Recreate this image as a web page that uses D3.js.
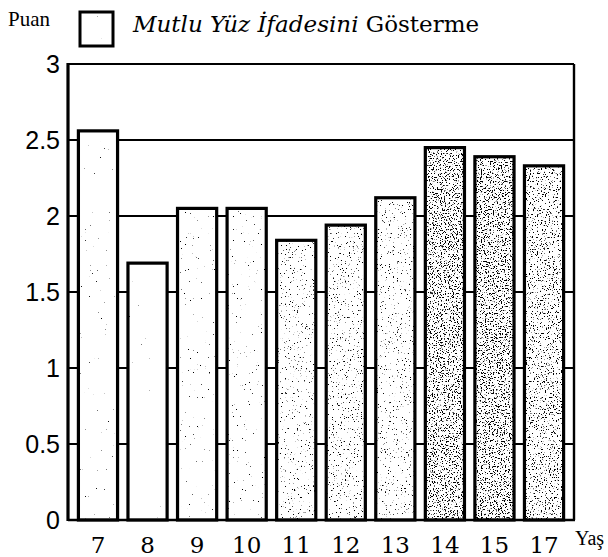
<!DOCTYPE html>
<html>
<head>
<meta charset="utf-8">
<script src="https://cdn.jsdelivr.net/npm/d3@7"></script>
<style>
  body { margin: 0; background: #fff; }
  svg { display: block; }
</style>
</head>
<body>
<svg id="chart" width="608" height="557"></svg>
<script>
// values
const ages = ['7', '8', '9', '10', '11', '12', '13', '14', '15', '17'];
const scores = [2.56, 1.69, 2.05, 2.05, 1.84, 1.94, 2.12, 2.45, 2.39, 2.33];
const yTicks = [0, 0.5, 1, 1.5, 2, 2.5, 3];
const yTickLabels = ['0', '0.5', '1', '1.5', '2', '2.5', '3'];
const legendLabelItalic = 'Mutlu Yüz İfadesini';
const legendLabelPlain = ' Gösterme';

// stipple threshold per bar (lower = denser dots)
const stipple = [0.80, 0.82, 0.76, 0.74, 0.68, 0.67, 0.68, 0.58, 0.58, 0.62];

const svg = d3.select('#chart');
const plot = { left: 68, right: 574, top: 64, bottom: 520 };

const x = d3.scaleBand()
    .domain(ages)
    .range([plot.left, plot.right])
    .padding(0.21);

const y = d3.scaleLinear()
    .domain([0, 3])
    .range([plot.bottom, plot.top]);

const defs = svg.append('defs');

/**
 * Builds a noise filter that sprinkles black dots over a shape
 */
function addStipple(id, threshold, seed) {
    const f = defs.append('filter')
        .attr('id', id)
        .attr('x', 0).attr('y', 0).attr('width', 1).attr('height', 1);
    f.append('feTurbulence')
        .attr('type', 'fractalNoise')
        .attr('baseFrequency', 0.75)
        .attr('numOctaves', 2)
        .attr('seed', seed)
        .attr('result', 'noise');
    f.append('feColorMatrix')
        .attr('in', 'noise')
        .attr('type', 'matrix')
        .attr('values', `0 0 0 0 0  0 0 0 0 0  0 0 0 0 0  14 0 0 0 ${-14 * threshold}`)
        .attr('result', 'dots');
    f.append('feComposite')
        .attr('in', 'dots')
        .attr('in2', 'SourceGraphic')
        .attr('operator', 'in');
}

stipple.forEach((t, i) => addStipple('stip' + i, t, i + 3));
addStipple('stipLegend', 0.86, 40);

// gridlines behind the bars
svg.append('g')
    .selectAll('line')
    .data(yTicks.slice(1, -1))
    .enter().append('line')
    .attr('x1', plot.left)
    .attr('x2', plot.right)
    .attr('y1', d => y(d))
    .attr('y2', d => y(d))
    .attr('stroke', '#000')
    .attr('stroke-width', 2.2);

// bars
const bars = svg.append('g')
    .selectAll('g')
    .data(ages)
    .enter().append('g');

bars.append('rect')
    .attr('x', d => x(d))
    .attr('y', (d, i) => y(scores[i]))
    .attr('width', x.bandwidth())
    .attr('height', (d, i) => y(0) - y(scores[i]))
    .attr('fill', '#fff');

bars.append('rect')
    .attr('x', d => x(d))
    .attr('y', (d, i) => y(scores[i]))
    .attr('width', x.bandwidth())
    .attr('height', (d, i) => y(0) - y(scores[i]))
    .attr('fill', '#000')
    .attr('filter', (d, i) => `url(#stip${i})`);

bars.append('rect')
    .attr('x', d => x(d))
    .attr('y', (d, i) => y(scores[i]))
    .attr('width', x.bandwidth())
    .attr('height', (d, i) => y(0) - y(scores[i]))
    .attr('fill', 'none')
    .attr('stroke', '#000')
    .attr('stroke-width', 3.2);

// frame
svg.append('line')
    .attr('x1', plot.left).attr('x2', plot.right)
    .attr('y1', plot.top).attr('y2', plot.top)
    .attr('stroke', '#000').attr('stroke-width', 2.2);
svg.append('line')
    .attr('x1', plot.right).attr('x2', plot.right)
    .attr('y1', plot.top).attr('y2', plot.bottom)
    .attr('stroke', '#000').attr('stroke-width', 2.4);
svg.append('line')
    .attr('x1', plot.left).attr('x2', plot.right + 1)
    .attr('y1', plot.bottom).attr('y2', plot.bottom)
    .attr('stroke', '#000').attr('stroke-width', 2.6);
svg.append('line')
    .attr('x1', plot.left).attr('x2', plot.left)
    .attr('y1', plot.top - 1).attr('y2', plot.bottom + 1)
    .attr('stroke', '#000').attr('stroke-width', 3.2);

// y tick labels
svg.append('g')
    .selectAll('text')
    .data(yTicks)
    .enter().append('text')
    .attr('x', 60)
    .attr('y', d => y(d))
    .attr('dy', '0.36em')
    .attr('text-anchor', 'end')
    .attr('font-family', 'Liberation Sans, Arial, sans-serif')
    .attr('font-size', 25)
    .text((d, i) => yTickLabels[i]);

// x tick labels
svg.append('g')
    .selectAll('text')
    .data(ages)
    .enter().append('text')
    .attr('x', d => x(d) + x.bandwidth() / 2)
    .attr('y', 553)
    .attr('text-anchor', 'middle')
    .attr('font-family', 'DejaVu Serif, serif')
    .attr('font-size', 23)
    .text(d => d);

svg.append('text')
    .attr('x', 575)
    .attr('y', 545)
    .attr('font-family', 'Liberation Serif, serif')
    .attr('font-size', 20)
    .text('Yaş');

svg.append('text')
    .attr('x', 8)
    .attr('y', 26)
    .attr('font-family', 'Liberation Serif, serif')
    .attr('font-size', 21)
    .text('Puan');

// legend
svg.append('rect')
    .attr('x', 80).attr('y', 12)
    .attr('width', 33).attr('height', 34)
    .attr('fill', '#fff');
svg.append('rect')
    .attr('x', 80).attr('y', 12)
    .attr('width', 33).attr('height', 34)
    .attr('fill', '#000')
    .attr('filter', 'url(#stipLegend)');
svg.append('rect')
    .attr('x', 80).attr('y', 12)
    .attr('width', 33).attr('height', 34)
    .attr('fill', 'none')
    .attr('stroke', '#000')
    .attr('stroke-width', 3);

const legendText = svg.append('text')
    .attr('x', 133)
    .attr('y', 32)
    .attr('font-family', 'DejaVu Serif, serif')
    .attr('font-size', 23);
legendText.append('tspan')
    .attr('font-style', 'italic')
    .text(legendLabelItalic);
legendText.append('tspan')
    .text(legendLabelPlain);
</script>
</body>
</html>
